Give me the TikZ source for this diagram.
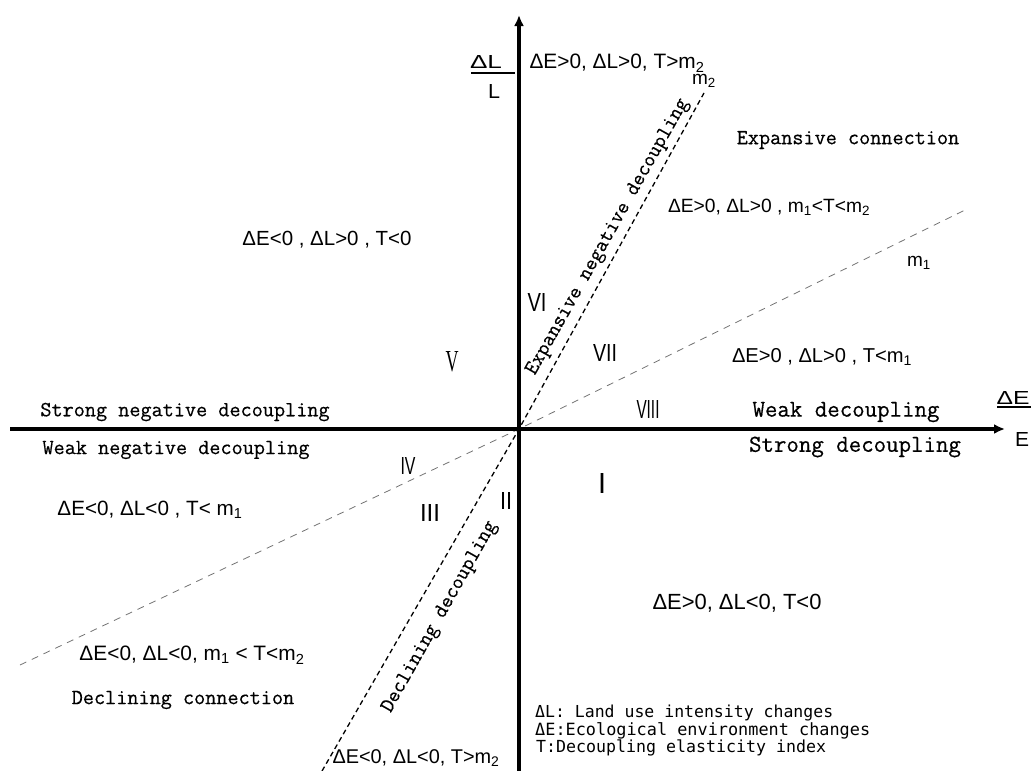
\documentclass[tikz,border=0pt]{standalone}
\usepackage{fontspec}
\usepackage{graphicx}
\newfontfamily\sansf{Liberation Sans}
\newfontfamily\seriff{Liberation Serif}
\newfontfamily\monosans{DejaVu Sans Mono}
\newfontfamily\monoh[RawFeature={embolden=0.5}]{Latin Modern Mono}
\usetikzlibrary{arrows.meta}
\newcommand{\fw}[2]{\resizebox{#1pt}{!}{#2}}
\newcommand{\fwh}[3]{\resizebox{#1pt}{#2pt}{#3}}
\newcommand{\sub}[1]{\textsubscript{#1}}
\begin{document}
\begin{tikzpicture}[x=1pt,y=-1pt,
  axis/.style={line width=3.4pt, -{Latex[length=11pt,width=10pt]}},
  mtwo/.style={line width=1.3pt, black, dash pattern=on 5pt off 3.5pt},
  mone/.style={line width=0.8pt, black!55, dash pattern=on 7pt off 6pt},
  cond/.style={font=\sansf\fontsize{19}{19}\selectfont, inner sep=0pt},
  lab/.style={font=\monoh\fontsize{21.6}{22}\selectfont, inner sep=0pt},
  labbig/.style={font=\monoh\fontsize{24.2}{24}\selectfont, inner sep=0pt},
  rot/.style={font=\monoh\fontsize{21}{21}\selectfont, inner sep=0pt, rotate=60.7},
  rom/.style={font=\sansf\fontsize{24}{24}\selectfont, inner sep=0pt},
  leg/.style={font=\monosans\fontsize{16}{16}\selectfont, inner sep=0pt, anchor=west},
  frac/.style={font=\sansf\fontsize{19}{19}\selectfont, inner sep=0pt},
]
\useasboundingbox (0,0) rectangle (1031,771);
% coordinates
\coordinate (O) at (519,429);
\coordinate (xl) at (10,429);
\coordinate (xr) at (1005,429);
\coordinate (yb) at (519,771);
\coordinate (yt) at (519,15);
\coordinate (m2lo) at (322,771);
\coordinate (m2hi) at (704,93);
\coordinate (m1lo) at (20,665);
\coordinate (m1hi) at (965,210);
% dashed lines
\draw[mone] (m1lo) -- (O) -- (m1hi);
\draw[mtwo] (m2lo) -- (O) -- (m2hi);
% axes
\draw[axis] (xl) -- (xr);
\draw[axis] (yb) -- (yt);
% axis labels
\node[frac] (dl) at (486,62) {\fwh{32}{13}{ΔL}};
\coordinate (dlbl) at (471,73);
\coordinate (dlbr) at (515,73);
\draw[line width=1.3pt] (dlbl) -- (dlbr);
\node[frac] (dlL) at (494,91) {\fwh{12}{14}{L}};
\node[frac] (de) at (1013,398) {\fwh{33}{13}{ΔE}};
\coordinate (debl) at (997,407);
\coordinate (debr) at (1031,407);
\draw[line width=1.3pt] (debl) -- (debr);
\node[frac] (deE) at (1022,439) {\fwh{14}{14}{E}};
% m labels
\node[frac] (lm2) at (704,81) {m\sub{2}};
\node[frac] (lm1) at (919,263) {m\sub{1}};
% conditions
\node[cond] (c1) at (617,63) {\fw{175}{ΔE>0, ΔL>0, T>m\sub{2}}};
\node[cond] (c2) at (769,207) {\fw{202}{ΔE>0, ΔL>0 , m\sub{1}<T<m\sub{2}}};
\node[cond] (c3) at (327,240) {\fw{169}{ΔE<0 , ΔL>0 , T<0}};
\node[cond] (c4) at (822,357) {\fw{180}{ΔE>0 , ΔL>0 , T<m\sub{1}}};
\node[cond] (c5) at (150,510) {\fw{185}{ΔE<0, ΔL<0 , T< m\sub{1}}};
\node[cond] (c6) at (737,603) {\fw{169}{ΔE>0,  ΔL<0, T<0}};
\node[cond] (c7) at (192,655) {\fw{225}{ΔE<0, ΔL<0, m\sub{1} < T<m\sub{2}}};
\node[cond] (c8) at (416,758) {\fw{167}{ΔE<0, ΔL<0, T>m\sub{2}}};
% category labels
\node[lab] (ec) at (848,140) {Expansive connection};
\node[lab] (snd) at (185,412) {Strong negative decoupling};
\node[lab] (wnd) at (176,450) {Weak negative decoupling};
\node[labbig] (wd) at (846,412) {Weak decoupling};
\node[labbig] (sd) at (855,447) {Strong decoupling};
\node[lab] (dc) at (183,700) {Declining connection};
\node[rot] (end) at (608,237) {Expansive negative decoupling};
\node[rot] (dd) at (440,617) {Declining decoupling};
% roman numerals
\node[rom] (r6) at (537,302) {\fwh{19}{18}{VI}};
\node[rom] (r7) at (605,353) {\fwh{24}{17}{VII}};
\node[rom] (r8) at (648,409) {\fwh{23}{18}{VIII}};
\node[rom] (r4) at (408,466) {\fwh{15}{17}{IV}};
\node[rom] (r3) at (430,513) {\fwh{20}{17}{III}};
\node[rom] (r2) at (506,501) {\fwh{12}{17}{II}};
\node[rom] (r1) at (602,483) {\fwh{8}{20}{I}};
\node[rom] (r5) at (452,362) {\fwh{13}{20}{\seriff V}};
% legend
\node[leg] (g1) at (535,713) {\fw{298}{ΔL: Land use intensity changes}};
\node[leg] (g2) at (535,731) {\fw{335}{ΔE:Ecological environment changes}};
\node[leg] (g3) at (536,748) {\fw{290}{T:Decoupling elasticity index}};
\end{tikzpicture}
\end{document}
